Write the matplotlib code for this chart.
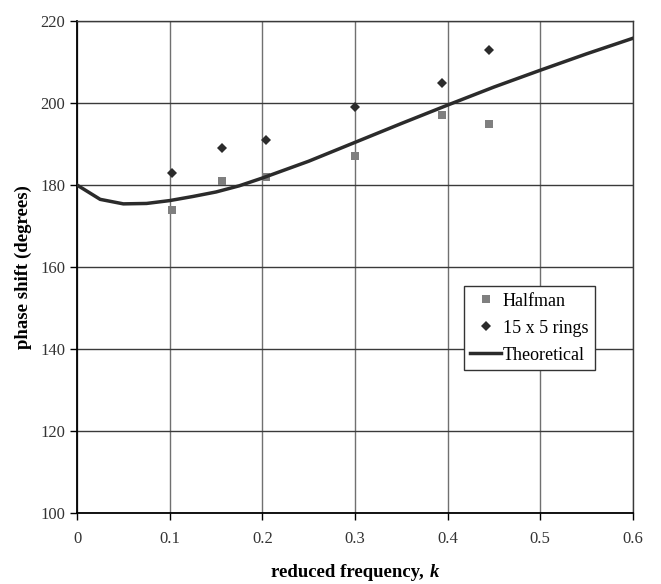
import matplotlib
matplotlib.use('Agg')
import matplotlib.pyplot as plt

# measured points
halfman_k = [0.102, 0.157, 0.2035, 0.300, 0.394, 0.445]
halfman_phase = [174, 181, 182, 187, 197, 195]
rings_k = [0.102, 0.157, 0.2035, 0.300, 0.394, 0.445]
rings_phase = [183, 189, 191, 199, 205, 213]

# theoretical curve
theo_k = [0, 0.025, 0.05, 0.075, 0.1, 0.125, 0.15, 0.175, 0.2, 0.25, 0.3,
          0.35, 0.4, 0.45, 0.5, 0.55, 0.6]
theo_phase = [180, 176.5, 175.4, 175.5, 176.2, 177.2, 178.3, 179.8, 181.7,
              185.8, 190.4, 195.0, 199.5, 203.9, 208.0, 212.0, 215.8]

plt.rcParams['font.family'] = ['Liberation Serif', 'DejaVu Serif']

fig = plt.figure(figsize=(6.61, 5.84), dpi=100)
ax = fig.add_axes([0.1165, 0.1216, 0.8411, 0.8424])

ax.plot(halfman_k, halfman_phase, 's', color='#7f7f7f', ms=6, mew=0, label='Halfman', zorder=3)
ax.plot(rings_k, rings_phase, 'D', color='#2b2b2b', ms=5, mew=0, label='15 x 5 rings', zorder=3)
ax.plot(theo_k, theo_phase, '-', color='#2b2b2b', lw=2.5, label='Theoretical', zorder=4)

ax.set_xlim(0, 0.6)
ax.set_ylim(100, 220)
ax.set_xticks([0, 0.1, 0.2, 0.3, 0.4, 0.5, 0.6])
ax.set_xticklabels(['0', '0.1', '0.2', '0.3', '0.4', '0.5', '0.6'])
ax.set_yticks(range(100, 221, 20))

ax.grid(True, axis='y', color='#3a3a3a', lw=1.0)
ax.grid(True, axis='x', color='#707070', lw=1.0)
ax.set_axisbelow(True)

for s in ['top', 'right']:
    ax.spines[s].set_color('#3a3a3a')
    ax.spines[s].set_linewidth(1.0)
for s in ['left', 'bottom']:
    ax.spines[s].set_color('black')
    ax.spines[s].set_linewidth(1.3)

ax.tick_params(direction='out', length=5, width=1, labelsize=12, colors='black',
               labelcolor='#333333')
ax.tick_params(axis='x', pad=8)

ax.set_xlabel('reduced frequency, ', fontsize=13.5, fontweight='bold')
ax.set_ylabel('phase shift (degrees)', fontsize=13.5, fontweight='bold', labelpad=6)
ax.xaxis.set_label_coords(0.49, -0.103)

leg = ax.legend(loc='lower left', bbox_to_anchor=(0.696, 0.291), fontsize=13,
                frameon=True, fancybox=False, edgecolor='#333333',
                framealpha=1, borderpad=0.35, handlelength=1.7, handletextpad=0.1,
                labelspacing=0.55, borderaxespad=0)
leg.get_frame().set_linewidth(1.0)

fig.canvas.draw()
# append bold-italic k after the x label
lab = ax.xaxis.label
bb = lab.get_window_extent()
inv = fig.transFigure.inverted()
x1, y0 = inv.transform((bb.x1, bb.y0))
fig.text(x1 + 0.002, y0, 'k', fontsize=13.5, fontweight='bold', fontstyle='italic',
         ha='left', va='bottom')

fig.savefig('out.png', dpi=100)
